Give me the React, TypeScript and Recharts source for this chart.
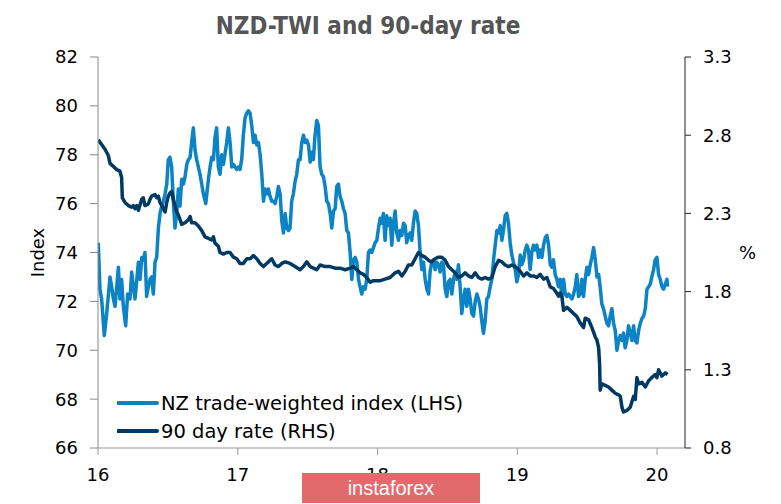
import { LineChart, Line, XAxis, YAxis, Legend } from 'recharts'

// NZ trade-weighted index, [year, index]
const twiPoints: [number, number][] = [
  [16.002, 74.4], [16.014, 72.5], [16.026, 72.1], [16.045, 70.6], [16.062, 71.5], [16.086, 73.0],
  [16.098, 72.6], [16.11, 72.1], [16.122, 71.8], [16.146, 73.4], [16.157, 72.1], [16.169, 72.9],
  [16.181, 71.8], [16.198, 71.0], [16.212, 72.3], [16.229, 72.1], [16.241, 73.2], [16.253, 72.6],
  [16.265, 72.1], [16.289, 73.6], [16.301, 72.9], [16.313, 73.8], [16.324, 73.7], [16.336, 74.0],
  [16.348, 72.2], [16.36, 72.6], [16.372, 72.9], [16.384, 73.0], [16.396, 72.3], [16.408, 73.6],
  [16.42, 73.8], [16.432, 75.0], [16.444, 75.6], [16.456, 75.9], [16.468, 76.1], [16.48, 76.4],
  [16.492, 76.8], [16.503, 77.8], [16.515, 77.9], [16.527, 77.5], [16.539, 76.1], [16.551, 75.0],
  [16.563, 75.6], [16.575, 76.6], [16.587, 75.9], [16.599, 77.0], [16.611, 76.8], [16.623, 77.1],
  [16.635, 77.6], [16.647, 77.8], [16.659, 77.9], [16.67, 78.5], [16.682, 79.1], [16.694, 78.2],
  [16.706, 77.8], [16.718, 77.5], [16.73, 77.2], [16.742, 76.8], [16.754, 76.4], [16.771, 76.0],
  [16.79, 77.0], [16.802, 77.5], [16.814, 77.9], [16.826, 77.8], [16.837, 78.7], [16.849, 79.1],
  [16.861, 77.5], [16.873, 77.2], [16.885, 78.0], [16.897, 77.6], [16.921, 78.5], [16.933, 79.1],
  [16.945, 78.5], [16.957, 77.5], [16.969, 77.6], [16.981, 77.5], [16.993, 77.4], [17.004, 77.5],
  [17.016, 77.4], [17.028, 77.8], [17.04, 78.8], [17.052, 79.5], [17.064, 79.7], [17.076, 79.8],
  [17.088, 79.7], [17.1, 79.2], [17.112, 78.5], [17.124, 78.8], [17.136, 78.4], [17.148, 78.5],
  [17.16, 78.0], [17.172, 77.2], [17.184, 76.1], [17.195, 76.6], [17.207, 76.4], [17.219, 76.6],
  [17.231, 76.3], [17.243, 76.1], [17.255, 76.1], [17.267, 76.0], [17.279, 76.3], [17.291, 76.7],
  [17.303, 76.4], [17.315, 75.3], [17.327, 74.8], [17.339, 75.6], [17.351, 75.0], [17.363, 74.9],
  [17.374, 75.0], [17.386, 76.1], [17.398, 76.4], [17.41, 76.9], [17.422, 77.2], [17.434, 77.8],
  [17.446, 77.8], [17.458, 78.5], [17.47, 78.8], [17.482, 78.5], [17.494, 78.6], [17.506, 78.4],
  [17.518, 77.7], [17.53, 78.1], [17.541, 77.8], [17.553, 78.8], [17.565, 79.4], [17.577, 79.2],
  [17.589, 77.5], [17.601, 77.2], [17.613, 77.1], [17.625, 76.7], [17.637, 76.1], [17.649, 76.0],
  [17.661, 75.6], [17.673, 75.0], [17.685, 75.7], [17.697, 75.8], [17.708, 76.7], [17.72, 76.8],
  [17.732, 76.3], [17.744, 76.1], [17.756, 75.8], [17.768, 75.6], [17.78, 74.9], [17.792, 74.8],
  [17.804, 74.0], [17.816, 72.9], [17.828, 73.7], [17.84, 73.8], [17.852, 73.6], [17.864, 72.9],
  [17.875, 72.6], [17.887, 72.3], [17.899, 72.6], [17.911, 72.5], [17.923, 72.9], [17.935, 74.0],
  [17.947, 74.1], [17.959, 74.0], [17.971, 74.2], [17.983, 74.4], [17.995, 74.5], [18.007, 75.0],
  [18.019, 75.4], [18.031, 75.2], [18.042, 75.6], [18.054, 74.5], [18.066, 75.5], [18.078, 75.1],
  [18.09, 75.4], [18.102, 74.3], [18.114, 75.2], [18.126, 75.7], [18.138, 74.8], [18.15, 74.5],
  [18.162, 74.9], [18.174, 74.7], [18.186, 75.2], [18.198, 75.1], [18.209, 74.4], [18.221, 74.7],
  [18.233, 74.8], [18.245, 74.5], [18.257, 75.2], [18.269, 75.7], [18.281, 75.6], [18.293, 75.1],
  [18.305, 74.0], [18.317, 73.3], [18.329, 73.6], [18.341, 72.9], [18.353, 72.5], [18.365, 72.3],
  [18.376, 73.2], [18.388, 73.6], [18.4, 73.7], [18.412, 73.3], [18.424, 73.6], [18.436, 73.5],
  [18.448, 73.2], [18.46, 73.6], [18.472, 73.5], [18.484, 72.5], [18.496, 72.2], [18.508, 72.8],
  [18.52, 72.9], [18.532, 72.3], [18.544, 72.9], [18.555, 73.2], [18.567, 72.9], [18.579, 73.5],
  [18.591, 72.6], [18.603, 71.5], [18.615, 72.1], [18.627, 72.5], [18.639, 71.8], [18.651, 72.5],
  [18.663, 72.1], [18.675, 71.5], [18.687, 71.4], [18.699, 72.0], [18.711, 72.3], [18.722, 72.1],
  [18.734, 71.8], [18.746, 71.2], [18.758, 70.7], [18.77, 71.2], [18.782, 72.1], [18.794, 72.2],
  [18.806, 72.6], [18.818, 72.9], [18.83, 73.7], [18.842, 74.3], [18.854, 74.9], [18.866, 74.8],
  [18.878, 75.1], [18.89, 74.5], [18.901, 74.9], [18.913, 75.5], [18.925, 75.6], [18.937, 75.2],
  [18.949, 74.4], [18.961, 73.9], [18.973, 73.6], [18.985, 73.3], [18.997, 72.8], [19.009, 73.1],
  [19.021, 73.9], [19.033, 73.5], [19.045, 73.7], [19.057, 74.1], [19.069, 74.3], [19.08, 74.1],
  [19.092, 73.3], [19.104, 74.0], [19.116, 74.3], [19.128, 74.1], [19.14, 74.3], [19.152, 73.8],
  [19.164, 74.1], [19.176, 73.8], [19.188, 74.3], [19.2, 74.6], [19.212, 74.7], [19.224, 74.3],
  [19.236, 73.5], [19.248, 73.4], [19.259, 73.7], [19.271, 73.1], [19.283, 72.9], [19.295, 72.6],
  [19.307, 72.9], [19.319, 72.2], [19.331, 72.9], [19.343, 72.3], [19.355, 72.2], [19.367, 72.3],
  [19.379, 72.2], [19.391, 72.1], [19.403, 72.3], [19.415, 72.6], [19.426, 73.1], [19.438, 72.2],
  [19.45, 72.3], [19.462, 72.9], [19.474, 72.2], [19.486, 72.9], [19.498, 73.4], [19.51, 73.1],
  [19.522, 73.5], [19.534, 73.8], [19.546, 74.2], [19.558, 73.7], [19.57, 73.0], [19.582, 73.1],
  [19.593, 72.6], [19.605, 71.9], [19.617, 71.7], [19.629, 71.4], [19.641, 71.1], [19.653, 71.0],
  [19.665, 71.4], [19.677, 71.7], [19.689, 71.1], [19.701, 70.8], [19.713, 70.0], [19.725, 70.4],
  [19.737, 70.6], [19.749, 70.4], [19.76, 70.7], [19.772, 70.1], [19.784, 70.4], [19.796, 71.0],
  [19.808, 70.7], [19.82, 70.4], [19.832, 71.0], [19.844, 70.4], [19.856, 70.3], [19.868, 70.8],
  [19.88, 71.1], [19.892, 71.3], [19.904, 71.4], [19.916, 71.7], [19.928, 72.5], [19.94, 72.6],
  [19.951, 72.7], [19.963, 73.0], [19.975, 73.3], [19.987, 73.7], [19.999, 73.8], [20.011, 73.1],
  [20.023, 72.9], [20.035, 72.6], [20.047, 72.5], [20.059, 72.7], [20.071, 72.9], [20.075, 72.6],
]

// 90 day rate, [year, %]
const ratePoints: [number, number][] = [
  [16.002, 2.77], [16.026, 2.74], [16.05, 2.71], [16.074, 2.67], [16.086, 2.62], [16.11, 2.6],
  [16.134, 2.58], [16.157, 2.57], [16.169, 2.53], [16.174, 2.4], [16.193, 2.37], [16.217, 2.35],
  [16.241, 2.34], [16.253, 2.35], [16.265, 2.33], [16.277, 2.35], [16.289, 2.32], [16.313, 2.39],
  [16.324, 2.4], [16.336, 2.35], [16.36, 2.36], [16.372, 2.39], [16.384, 2.41], [16.408, 2.42],
  [16.42, 2.4], [16.432, 2.41], [16.444, 2.37], [16.456, 2.35], [16.468, 2.33], [16.48, 2.31],
  [16.492, 2.37], [16.503, 2.41], [16.515, 2.43], [16.527, 2.44], [16.539, 2.39], [16.551, 2.35],
  [16.563, 2.31], [16.575, 2.29], [16.587, 2.26], [16.599, 2.23], [16.623, 2.24], [16.647, 2.26],
  [16.659, 2.28], [16.67, 2.24], [16.694, 2.24], [16.718, 2.22], [16.742, 2.19], [16.766, 2.15],
  [16.79, 2.14], [16.814, 2.13], [16.826, 2.15], [16.837, 2.11], [16.861, 2.09], [16.873, 2.05],
  [16.897, 2.04], [16.921, 2.05], [16.945, 2.05], [16.969, 2.02], [16.993, 2.01], [17.016, 1.98],
  [17.04, 1.98], [17.064, 2.01], [17.088, 2.01], [17.112, 2.03], [17.136, 2.01], [17.16, 1.98],
  [17.184, 1.96], [17.207, 1.98], [17.243, 2.01], [17.267, 1.97], [17.291, 1.96], [17.315, 1.98],
  [17.339, 1.99], [17.374, 1.98], [17.41, 1.96], [17.446, 1.94], [17.47, 1.96], [17.494, 1.99],
  [17.518, 1.96], [17.541, 1.95], [17.565, 1.94], [17.589, 1.97], [17.625, 1.96], [17.661, 1.96],
  [17.697, 1.95], [17.732, 1.95], [17.768, 1.94], [17.804, 1.95], [17.828, 1.96], [17.852, 1.94],
  [17.875, 1.92], [17.899, 1.91], [17.923, 1.89], [17.947, 1.86], [17.971, 1.87], [17.995, 1.87],
  [18.019, 1.87], [18.054, 1.88], [18.09, 1.89], [18.126, 1.92], [18.15, 1.93], [18.174, 1.9],
  [18.198, 1.93], [18.221, 1.97], [18.245, 1.97], [18.269, 2.01], [18.293, 2.05], [18.317, 2.03],
  [18.341, 2.02], [18.365, 2.0], [18.388, 1.99], [18.412, 2.01], [18.436, 2.02], [18.46, 2.02],
  [18.484, 2.0], [18.508, 1.96], [18.532, 1.94], [18.555, 1.92], [18.579, 1.89], [18.603, 1.9],
  [18.627, 1.92], [18.651, 1.9], [18.675, 1.89], [18.699, 1.92], [18.722, 1.89], [18.746, 1.88],
  [18.77, 1.89], [18.794, 1.88], [18.818, 1.89], [18.842, 1.96], [18.866, 2.0], [18.89, 1.99],
  [18.913, 1.97], [18.937, 1.96], [18.961, 1.97], [18.985, 1.96], [19.009, 1.94], [19.021, 1.93],
  [19.045, 1.9], [19.069, 1.92], [19.092, 1.9], [19.116, 1.9], [19.14, 1.89], [19.164, 1.91],
  [19.188, 1.88], [19.212, 1.89], [19.236, 1.83], [19.259, 1.82], [19.283, 1.79], [19.295, 1.77],
  [19.307, 1.79], [19.319, 1.77], [19.331, 1.68], [19.355, 1.7], [19.379, 1.68], [19.403, 1.66],
  [19.426, 1.64], [19.45, 1.6], [19.474, 1.57], [19.486, 1.63], [19.51, 1.62], [19.534, 1.57],
  [19.558, 1.51], [19.57, 1.49], [19.582, 1.44], [19.589, 1.34], [19.593, 1.17], [19.605, 1.21],
  [19.629, 1.2], [19.653, 1.19], [19.677, 1.17], [19.701, 1.15], [19.725, 1.14], [19.737, 1.13],
  [19.749, 1.06], [19.76, 1.03], [19.784, 1.04], [19.808, 1.06], [19.832, 1.13], [19.844, 1.11],
  [19.856, 1.25], [19.868, 1.21], [19.892, 1.22], [19.916, 1.19], [19.94, 1.23], [19.963, 1.25],
  [19.987, 1.27], [19.999, 1.25], [20.011, 1.3], [20.035, 1.26], [20.059, 1.28], [20.075, 1.27],
]

const yearTicks = [16, 17, 18, 19, 20]
const indexTicks = [66, 68, 70, 72, 74, 76, 78, 80, 82]
const rateTicks = [0.8, 1.3, 1.8, 2.3, 2.8, 3.3]

const seriesNames = ['NZ trade-weighted index (LHS)', '90 day rate (RHS)']
const TWI_COLOR = '#0b83c4'
const RATE_COLOR = '#003a63'

const FONT = '"DejaVu Sans", Verdana, sans-serif'

const twiData = twiPoints.map(([t, v]) => ({ t, v }))
const rateData = ratePoints.map(([t, v]) => ({ t, v }))

function ChartLegend() {
  const items = [
    { label: seriesNames[0], color: TWI_COLOR },
    { label: seriesNames[1], color: RATE_COLOR },
  ]
  return (
    <div>
      {items.map((it) => (
        <div key={it.label} style={{ display: 'flex', alignItems: 'center', height: 28 }}>
          <svg width={42} height={10} style={{ marginRight: 2 }}>
            <line x1={1} y1={5} x2={40} y2={5} stroke={it.color} strokeWidth={4} strokeLinecap="round" />
          </svg>
          <span style={{ fontSize: 19.5, color: '#000', whiteSpace: 'nowrap' }}>{it.label}</span>
        </div>
      ))}
    </div>
  )
}

export default function App() {
  return (
    <div
      style={{
        position: 'absolute',
        left: 0,
        top: 0,
        width: 781,
        height: 504,
        background: '#fff',
        fontFamily: FONT,
      }}
    >
      <div
        style={{
          position: 'absolute',
          left: 0,
          top: 12,
          width: 736,
          textAlign: 'center',
          fontSize: 24,
          fontWeight: 'bold',
          color: '#555',
          fontFamily: '"DejaVu Sans Condensed", "DejaVu Sans", sans-serif',
        }}
      >
        NZD-TWI and 90-day rate
      </div>
      <LineChart width={781} height={504} margin={{ top: 57, right: 0, bottom: 16, left: 28 }}>
        <XAxis
          dataKey="t"
          type="number"
          domain={[16, 20.2]}
          ticks={yearTicks}
          allowDataOverflow
          stroke="#999"
          tickSize={7}
          tickMargin={13}
          height={40}
          tick={{ fill: '#000', fontSize: 18 }}
        />
        <YAxis
          yAxisId="left"
          domain={[66, 82]}
          ticks={indexTicks}
          allowDataOverflow
          stroke="#888"
          width={70}
          tickSize={8}
          tickMargin={12}
          tick={{ fill: '#000', fontSize: 18 }}
          label={{
            value: 'Index',
            angle: -90,
            position: 'insideLeft',
            offset: 10,
            style: { textAnchor: 'middle', fill: '#000', fontSize: 18 },
          }}
        />
        <YAxis
          yAxisId="right"
          orientation="right"
          domain={[0.8, 3.3]}
          ticks={rateTicks}
          allowDataOverflow
          stroke="#222"
          width={96}
          tickSize={6}
          tickMargin={12}
          tickFormatter={(v: number) => v.toFixed(1)}
          tick={{ fill: '#000', fontSize: 18 }}
          label={{
            value: '%',
            position: 'insideRight',
            offset: 25,
            style: { fill: '#000', fontSize: 18 },
          }}
        />
        <Legend
          layout="vertical"
          align="center"
          verticalAlign="middle"
          content={<ChartLegend />}
          wrapperStyle={{ left: 117, top: 389, width: 'auto', bottom: 'auto' }}
        />
        <Line
          data={twiData}
          dataKey="v"
          yAxisId="left"
          type="linear"
          stroke={TWI_COLOR}
          strokeWidth={3.5}
          strokeLinejoin="round"
          dot={false}
          isAnimationActive={false}
        />
        <Line
          data={rateData}
          dataKey="v"
          yAxisId="right"
          type="linear"
          stroke={RATE_COLOR}
          strokeWidth={3.5}
          strokeLinejoin="round"
          dot={false}
          isAnimationActive={false}
        />
      </LineChart>
      <div
        style={{
          position: 'absolute',
          left: 302,
          top: 473,
          width: 178,
          height: 30,
          lineHeight: '30px',
          background: '#e26a6a',
          color: '#fff',
          fontSize: 20,
          textAlign: 'center',
          fontFamily: '"Liberation Sans", Arial, sans-serif',
        }}
      >
        instaforex
      </div>
    </div>
  )
}
